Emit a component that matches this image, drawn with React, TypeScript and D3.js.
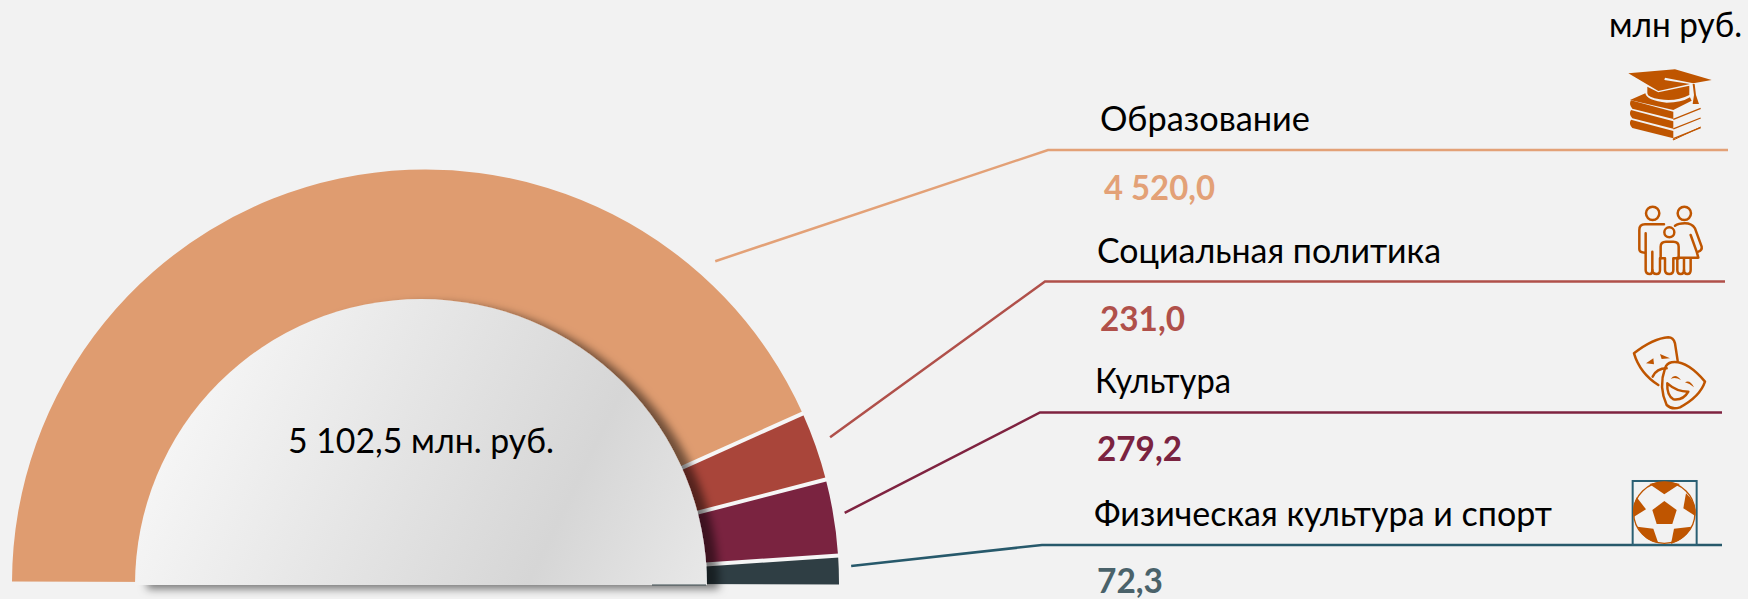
import React from "react";
import * as d3 from "d3";

const W = 1748;
const H = 599;

// Data
const categories = ["Образование", "Социальная политика", "Культура", "Физическая культура и спорт"];
const valueLabels = ["4 520,0", "231,0", "279,2", "72,3"];
const totalLabel = "5 102,5 млн. руб.";
const unitLabel = "млн руб.";
// Slices as drawn in the reference (degrees of sweep): they are not proportional to the labels.
const drawnSweep = [155.6, 9.7, 10.7, 4.0];

// Styles and layout, kept apart from the data
const sliceColors = ["#DF9C70", "#A9453A", "#7A2340", "#2F3E44"];
const lineColors = ["#E3A177", "#B0504A", "#7F2340", "#27596B"];
const valueColors = ["#E3A177", "#B0504A", "#7B2340", "#4A626A"];
const ICON = "#BF5500";
const FONT = "Lato, 'Open Sans', sans-serif";
const FS = 34;

const cx = 425.5, cy = 583, R = 413.5, rInner = 262;
const discCx = 421, discCy = 585, discR = 286;

const leaderDeg = [48, 19.8, 9.5, 2.3];
const leaderR = [433, 430, 425, 426];
const elbowX = [1048, 1045, 1040, 1042];
const lineY = [150, 281.5, 412.5, 545];
const lineEnd = [1728, 1725, 1722, 1722];
const catX = [1100, 1097, 1095, 1094];
const catW = [210, 344, 136, 458];
const catY = [131, 263, 393, 526];
const valX = [1104, 1100, 1097, 1097];
const valW = [111, 85, 85, 66];
const valY = [200, 331, 461, 593];

const rad = (d: number) => (d * Math.PI) / 180;

function CapIcon() {
  const bookY = [0, 29, 58];
  return (
    <g transform="translate(1610,60) scale(0.3333)" fill={ICON}>
      <path d="M55,40 L195,28 L305,60 L250,70 L165,53 L163,60 L240,72 L145,93 Z" />
      <path d="M112,80 L145,97 L238,77 L238,105 Q200,125 150,118 Q112,112 112,100 Z" />
      <path d="M248,72 L254,72 L258,105 L267,132 L248,132 L252,105 Z" />
      <path d="M60,120 L106,100 Q110,122 170,128 Q215,128 240,112 L245,122 L190,150 Z" />
      {bookY.map((dy) => (
        <g key={dy}>
          <path d={`M63,${121 + dy} L190,${155 + dy} V${177 + dy} L67,${146 + dy} Q55,${133 + dy} 63,${121 + dy} Z`} />
          <path d={`M190,${178 + dy} L272,${145 + dy}`} stroke={ICON} strokeWidth={4} fill="none" />
        </g>
      ))}
      <path d="M190,237 V240 L272,201" stroke={ICON} strokeWidth={3} fill="none" />
    </g>
  );
}

function FamilyIcon() {
  return (
    <g transform="translate(1590,190) scale(0.3333)" fill="none" stroke={ICON} strokeWidth={7.5} strokeLinecap="round" strokeLinejoin="round">
      <circle cx={188} cy={70} r={20} />
      <path d="M222,103 H165 Q148,103 148,120 V178 Q148,188 165,188" />
      <path d="M167,130 V240 Q167,252 180,252 Q187,252 187,240 V185" />
      <path d="M187,240 Q187,252 200,252 Q210,252 210,240 V205" />
      <circle cx={238} cy={127} r={15} />
      <path d="M212,205 V170 Q212,155 228,155 H250 Q266,155 266,170 V205" />
      <path d="M212,205 H225 V240 Q225,252 238,252 Q250,252 250,240 V205 H266" />
      <circle cx={283} cy={70} r={20} />
      <path d="M255,107 Q265,100 285,100 Q305,100 315,115 L335,170 Q337,180 325,185" />
      <path d="M302,135 L320,185 L325,203 H262" />
      <path d="M262,205 V240 Q262,252 272,252 Q282,252 282,240 V205" />
      <path d="M282,240 Q282,252 292,252 Q302,252 302,240 V205" />
    </g>
  );
}

function MasksIcon() {
  return (
    <g transform="translate(1610,330) scale(0.3333)" fill="none" stroke={ICON} strokeWidth={7.5} strokeLinecap="round" strokeLinejoin="round">
      <path d="M203,92 L195,40 Q190,22 175,22 Q130,25 72,70 Q90,130 145,165" />
      <path d="M185,97 Q230,90 285,155 Q270,200 210,232 Q185,240 170,225 Q145,170 165,115 Q170,100 185,97 Z" />
      <path d="M128,140 Q140,115 170,115" />
      <path d="M172,160 Q200,185 235,185 Q220,212 190,208 Q170,195 172,160 Z" />
      <g fill={ICON} stroke="none">
        <path d="M108,100 L130,85 L132,103 Z" />
        <path d="M150,72 L180,85 L155,87 Z" />
        <path d="M182,147 Q195,128 213,150 Q195,140 182,147 Z" />
        <path d="M225,157 Q240,148 252,172 Q238,160 225,157 Z" />
      </g>
    </g>
  );
}

function BallIcon() {
  return (
    <g transform="translate(1610,470) scale(0.3333)">
      <rect x={68} y={33} width={192} height={192} fill="none" stroke="#2A5F73" strokeWidth={6} />
      <circle cx={163} cy={128} r={92} fill="#F2F2F2" stroke={ICON} strokeWidth={4} />
      <g fill={ICON}>
        <path d="M163,93 L200,120 L187,162 L140,162 L127,120 Z" />
        <path d="M118,42 L163,73 L210,42 Q165,28 118,42 Z" />
        <path d="M80,82 L108,118 L72,140 Q64,110 80,82 Z" />
        <path d="M228,70 L220,115 L256,138 Q262,100 228,70 Z" />
        <path d="M82,170 L130,176 L145,220 Q102,212 82,170 Z" />
        <path d="M192,176 L244,170 Q228,208 183,222 Z" />
      </g>
    </g>
  );
}

export default function App() {
  const pie = d3.pie<number>().sort(null).startAngle(rad(-89.8)).endAngle(rad(90.2));
  const slices = pie(drawnSweep);
  const arc = d3.arc<d3.PieArcDatum<number>>().innerRadius(rInner).outerRadius(R);
  const discArc = d3.arc<any>().innerRadius(0).outerRadius(discR).startAngle(-Math.PI / 2).endAngle(Math.PI / 2);
  const leaderLine = d3.line();

  return (
    <svg width={W} height={H} viewBox={`0 0 ${W} ${H}`} style={{ position: "fixed", left: 0, top: 0, background: "#F2F2F2" }}>
      <defs>
        <linearGradient id="disc" gradientUnits="userSpaceOnUse" x1={-271} y1={-185} x2={253} y2={71}>
          <stop offset="0" stopColor="#F8F8F8" />
          <stop offset="0.72" stopColor="#D6D6D6" />
          <stop offset="1" stopColor="#E8E8E8" />
        </linearGradient>
        <filter id="shadow" x="-10%" y="-10%" width="125%" height="125%">
          <feDropShadow dx={12} dy={4} stdDeviation={4.5} floodColor="#000" floodOpacity={0.5} />
        </filter>
      </defs>

      <rect width={W} height={H} fill="#F2F2F2" />

      <g transform={`translate(${cx},${cy})`}>
        {slices.map((s, i) => (
          <path key={i} d={arc(s) ?? ""} fill={sliceColors[i]} />
        ))}
        {slices.slice(1).map((s, i) => {
          const a = s.startAngle - Math.PI / 2;
          return (
            <line
              key={i}
              x1={rInner * Math.cos(a)}
              y1={rInner * Math.sin(a)}
              x2={(R + 1) * Math.cos(a)}
              y2={(R + 1) * Math.sin(a)}
              stroke="#F6F6F6"
              strokeWidth={4}
            />
          );
        })}
      </g>

      <path transform={`translate(${discCx},${discCy})`} d={discArc({}) ?? ""} fill="url(#disc)" filter="url(#shadow)" />
      <line x1={652} x2={706} y1={585} y2={585} stroke="#3A4A4E" strokeWidth={1} />

      <text x={288} y={453} fontFamily={FONT} fontSize={FS} textLength={266} lengthAdjust="spacingAndGlyphs" fill="#000">
        {totalLabel}
      </text>

      {categories.map((c, i) => {
        const a = rad(leaderDeg[i]);
        const pts: [number, number][] = [
          [cx + leaderR[i] * Math.cos(a), cy - leaderR[i] * Math.sin(a)],
          [elbowX[i], lineY[i]],
          [lineEnd[i], lineY[i]],
        ];
        return (
          <g key={c}>
            <path d={leaderLine(pts) ?? ""} fill="none" stroke={lineColors[i]} strokeWidth={2.5} />
            <text x={catX[i]} y={catY[i]} fontFamily={FONT} fontSize={FS} textLength={catW[i]} lengthAdjust="spacingAndGlyphs" fill="#000">
              {c}
            </text>
            <text x={valX[i]} y={valY[i]} fontFamily={FONT} fontSize={FS} fontWeight={700} textLength={valW[i]} lengthAdjust="spacingAndGlyphs" fill={valueColors[i]}>
              {valueLabels[i]}
            </text>
          </g>
        );
      })}

      <text x={1609} y={37} fontFamily={FONT} fontSize={FS} textLength={133} lengthAdjust="spacingAndGlyphs" fill="#000">
        {unitLabel}
      </text>

      <CapIcon />
      <FamilyIcon />
      <MasksIcon />
      <BallIcon />
    </svg>
  );
}
